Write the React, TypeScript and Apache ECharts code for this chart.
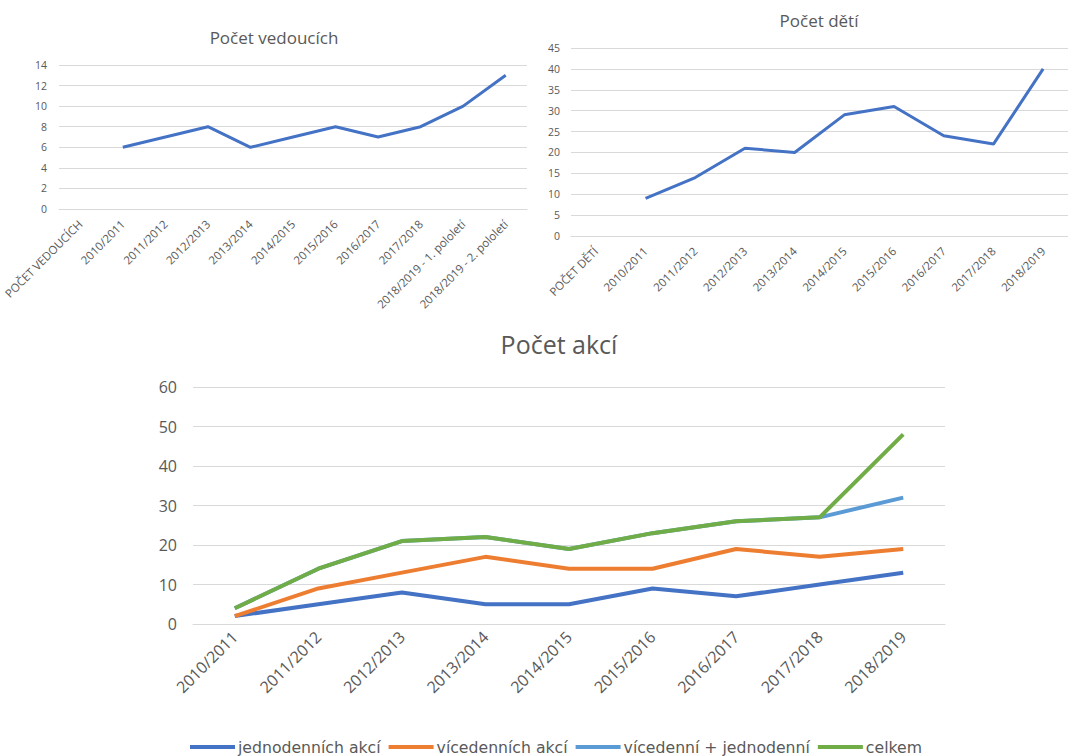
import React, { useEffect, useRef } from "react";
import * as echarts from "echarts";

const leaderCats = ["POČET VEDOUCÍCH", "2010/2011", "2011/2012", "2012/2013", "2013/2014", "2014/2015", "2015/2016", "2016/2017", "2017/2018", "2018/2019 - 1. pololetí", "2018/2019 - 2. pololetí"];
const leaderVals: (number | null)[] = [null, 6, 7, 8, 6, 7, 8, 7, 8, 10, 13];

const childCats = ["POČET DĚTÍ", "2010/2011", "2011/2012", "2012/2013", "2013/2014", "2014/2015", "2015/2016", "2016/2017", "2017/2018", "2018/2019"];
const childVals: (number | null)[] = [null, 9, 14, 21, 20, 29, 31, 24, 22, 40];

const actionCats = ["2010/2011", "2011/2012", "2012/2013", "2013/2014", "2014/2015", "2015/2016", "2016/2017", "2017/2018", "2018/2019"];
const oneDay = [2, 5, 8, 5, 5, 9, 7, 10, 13];
const multiDay = [2, 9, 13, 17, 14, 14, 19, 17, 19];
const combined = [4, 14, 21, 22, 19, 23, 26, 27, 32];
const total = [4, 14, 21, 22, 19, 23, 26, 27, 48];

const FONT = "'Open Sans', sans-serif";
const LEGEND_FONT = "'DejaVu Sans', 'Open Sans', sans-serif";
const TXT = "#595959";
const GRID = "#D9D9D9";

export default function App() {
  const ref = useRef<HTMLDivElement>(null);
  useEffect(() => {
    if (!ref.current) return;
    const chart = echarts.init(ref.current, undefined, { renderer: "svg" });
    const smallX = (i: number) => ({
      type: "category" as const,
      gridIndex: i,
      data: i === 0 ? leaderCats : childCats,
      boundaryGap: true,
      axisLine: { lineStyle: { color: GRID } },
      axisTick: { show: false },
      axisLabel: { rotate: 45, interval: 0, color: TXT, fontSize: 11.5, fontFamily: FONT, margin: 13 },
    });
    const yAx = (i: number, max: number, interval: number, size: number, margin: number) => ({
      type: "value" as const,
      gridIndex: i,
      min: 0,
      max,
      interval,
      axisLine: { show: false },
      axisTick: { show: false },
      splitLine: { lineStyle: { color: GRID, width: 1 } },
      axisLabel: { color: TXT, fontSize: size, fontFamily: FONT, margin },
    });
    chart.setOption({
      animation: false,
      backgroundColor: "#fff",
      title: [
        { text: "Počet vedoucích", left: 269, top: 24, textAlign: "center", textStyle: { color: TXT, fontSize: 17, fontWeight: "normal", fontFamily: FONT } },
        { text: "Počet dětí", left: 814, top: 7, textAlign: "center", textStyle: { color: TXT, fontSize: 17, fontWeight: "normal", fontFamily: FONT } },
        { text: "Počet akcí", left: 554, top: 326, textAlign: "center", textStyle: { color: TXT, fontSize: 25, fontWeight: "normal", fontFamily: FONT } },
      ],
      legend: {
        left: 190,
        top: 738,
        itemGap: 8,
        itemWidth: 45,
        itemHeight: 4,
        icon: "rect",
        padding: 0,
        textStyle: { color: TXT, fontSize: 15.7, lineHeight: 18, fontFamily: LEGEND_FONT, padding: [0, 0, 0, -2] },
        data: ["jednodenních akcí", "vícedenních akcí", "vícedenní + jednodenní", "celkem"],
      },
      grid: [
        { left: 59, top: 65, width: 468, height: 144 },
        { left: 571, top: 48, width: 501, height: 188 },
        { left: 193, top: 387, width: 752, height: 237 },
      ],
      xAxis: [
        smallX(0),
        smallX(1),
        {
          type: "category",
          gridIndex: 2,
          data: actionCats,
          boundaryGap: true,
          axisLine: { lineStyle: { color: GRID } },
          axisTick: { show: false },
          axisLabel: { rotate: 45, interval: 0, color: TXT, fontSize: 16, fontFamily: FONT, margin: 10 },
        },
      ],
      yAxis: [yAx(0, 14, 2, 10.5, 12), yAx(1, 45, 5, 10.5, 11), yAx(2, 60, 10, 16, 16)],
      series: [
        { type: "line", xAxisIndex: 0, yAxisIndex: 0, data: leaderVals, symbol: "none", lineStyle: { color: "#4472C4", width: 3 } },
        { type: "line", xAxisIndex: 1, yAxisIndex: 1, data: childVals, symbol: "none", lineStyle: { color: "#4472C4", width: 3 } },
        { name: "jednodenních akcí", type: "line", xAxisIndex: 2, yAxisIndex: 2, data: oneDay, symbol: "none", itemStyle: { color: "#4472C4" }, lineStyle: { color: "#4472C4", width: 4 } },
        { name: "vícedenních akcí", type: "line", xAxisIndex: 2, yAxisIndex: 2, data: multiDay, symbol: "none", itemStyle: { color: "#ED7D31" }, lineStyle: { color: "#ED7D31", width: 4 } },
        { name: "vícedenní + jednodenní", type: "line", xAxisIndex: 2, yAxisIndex: 2, data: combined, symbol: "none", itemStyle: { color: "#5B9BD5" }, lineStyle: { color: "#5B9BD5", width: 4 } },
        { name: "celkem", type: "line", xAxisIndex: 2, yAxisIndex: 2, data: total, symbol: "none", itemStyle: { color: "#70AD47" }, lineStyle: { color: "#70AD47", width: 4 } },
      ],
    });
    return () => chart.dispose();
  }, []);
  return <div ref={ref} style={{ position: "absolute", left: 0, top: 0, width: 1068, height: 756 }} />;
}
